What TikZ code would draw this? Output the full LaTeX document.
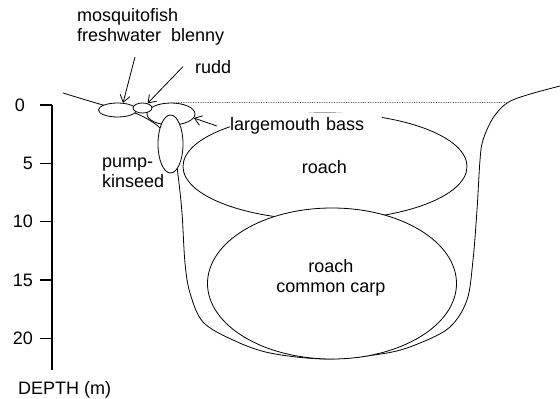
\documentclass[tikz,border=0pt]{standalone}
\usepackage{fontspec}
\setmainfont{Liberation Sans}
\usetikzlibrary{shapes.geometric,arrows.meta,positioning}

\begin{document}
\begin{tikzpicture}[x=1pt,y=-1pt,
    lbl/.style={font=\fontsize{18}{20}\selectfont, inner sep=0pt},
    fish/.style={draw, ellipse, inner sep=0pt, fill=white, line width=0.8pt},
    shoal/.style={draw, ellipse, inner sep=0pt, line width=0.8pt},
    ptr/.style={-{Straight Barb[length=7pt,width=10pt]}, line width=0.8pt},
    bank/.style={line width=0.8pt},
    water/.style={densely dotted, line width=0.7pt, black!70},
    axis/.style={line width=1.2pt}
]
    \useasboundingbox (0,0) rectangle (560,399);

    % depth axis
    \coordinate (ax0) at (52,105);
    \coordinate (axend) at (52,370);
    \draw[axis] (ax0) -- (axend);
    \foreach \d/\lx in {0/25,5/33,10/33,15/33,20/33}{
        \coordinate (t\d) at (52,105+11.67*\d);
        \draw[axis] (t\d) -- ++(-12,0);
        \node[lbl, anchor=east] (d\d) at (\lx,105+11.67*\d) {\d};
    }
    \node[lbl, anchor=base west] (depth) at (18,394.5) {DEPTH (m)};

    % pond bank, left shore round to right shore
    \draw[bank] plot[smooth, tension=0.55] coordinates {
        (63,93) (103,105) (135,113) (160,128) (174,152) (178,175) (182,213)
        (185,263) (190,293) (203,322) (233,340) (270,353) (327,359) (387,353)
        (420,343) (450,327) (467,300) (473,260) (477,210) (480,160) (483,140)
        (493,118) (507,103) (527,95) (560,86)};

    % open water shoals
    \node[shoal, minimum width=284pt, minimum height=107pt] (roachup) at (325,166.5) {};
    \node[shoal, fill=white, minimum width=249pt, minimum height=151pt] (carp) at (332,283.5) {};

    % littoral fish
    \node[shoal, minimum width=48pt, minimum height=22pt] (bass) at (171,114) {};
    \node[fish, minimum width=25pt, minimum height=58pt] (pump) at (170.5,144) {};
    \node[fish, minimum width=38pt, minimum height=14pt] (mosq) at (117.5,110) {};
    \node[fish, minimum width=19pt, minimum height=10pt] (rudd) at (142.5,108) {};

    % water surface
    \coordinate (shoreR) at (509,102.5);
    \draw[water] (bass.north) -- (shoreR);

    % labels (base of a two-line node is its last line)
    \node[lbl, align=left, anchor=base west] (mosqtxt) at (77,41.7) {mosquitofish\\freshwater~~blenny};
    \node[lbl, anchor=base west] (ruddtxt) at (195,73) {rudd};
    \node[lbl, fill=white, inner ysep=4.5pt, text width=152pt, anchor=base west] (basstxt) at (230,130.7) {largemouth bass};
    \node[lbl, align=left, anchor=base west] (pumptxt) at (102,187) {pump-\\kinseed};
    \node[lbl, anchor=base] (roachtxt) at (324.5,173) {roach};
    \node[lbl, align=center, anchor=base] (carptxt) at (331,292) {roach\\common carp};

    % pointers
    \coordinate (mtail) at (135,57);
    \draw[ptr] (mtail) -- (mosq.52);
    \draw[ptr] ([xshift=-12pt]ruddtxt.west) -- (rudd.42);
    \draw[ptr] ([xshift=-13pt]basstxt.west) -- (bass.-10);
\end{tikzpicture}
\end{document}
